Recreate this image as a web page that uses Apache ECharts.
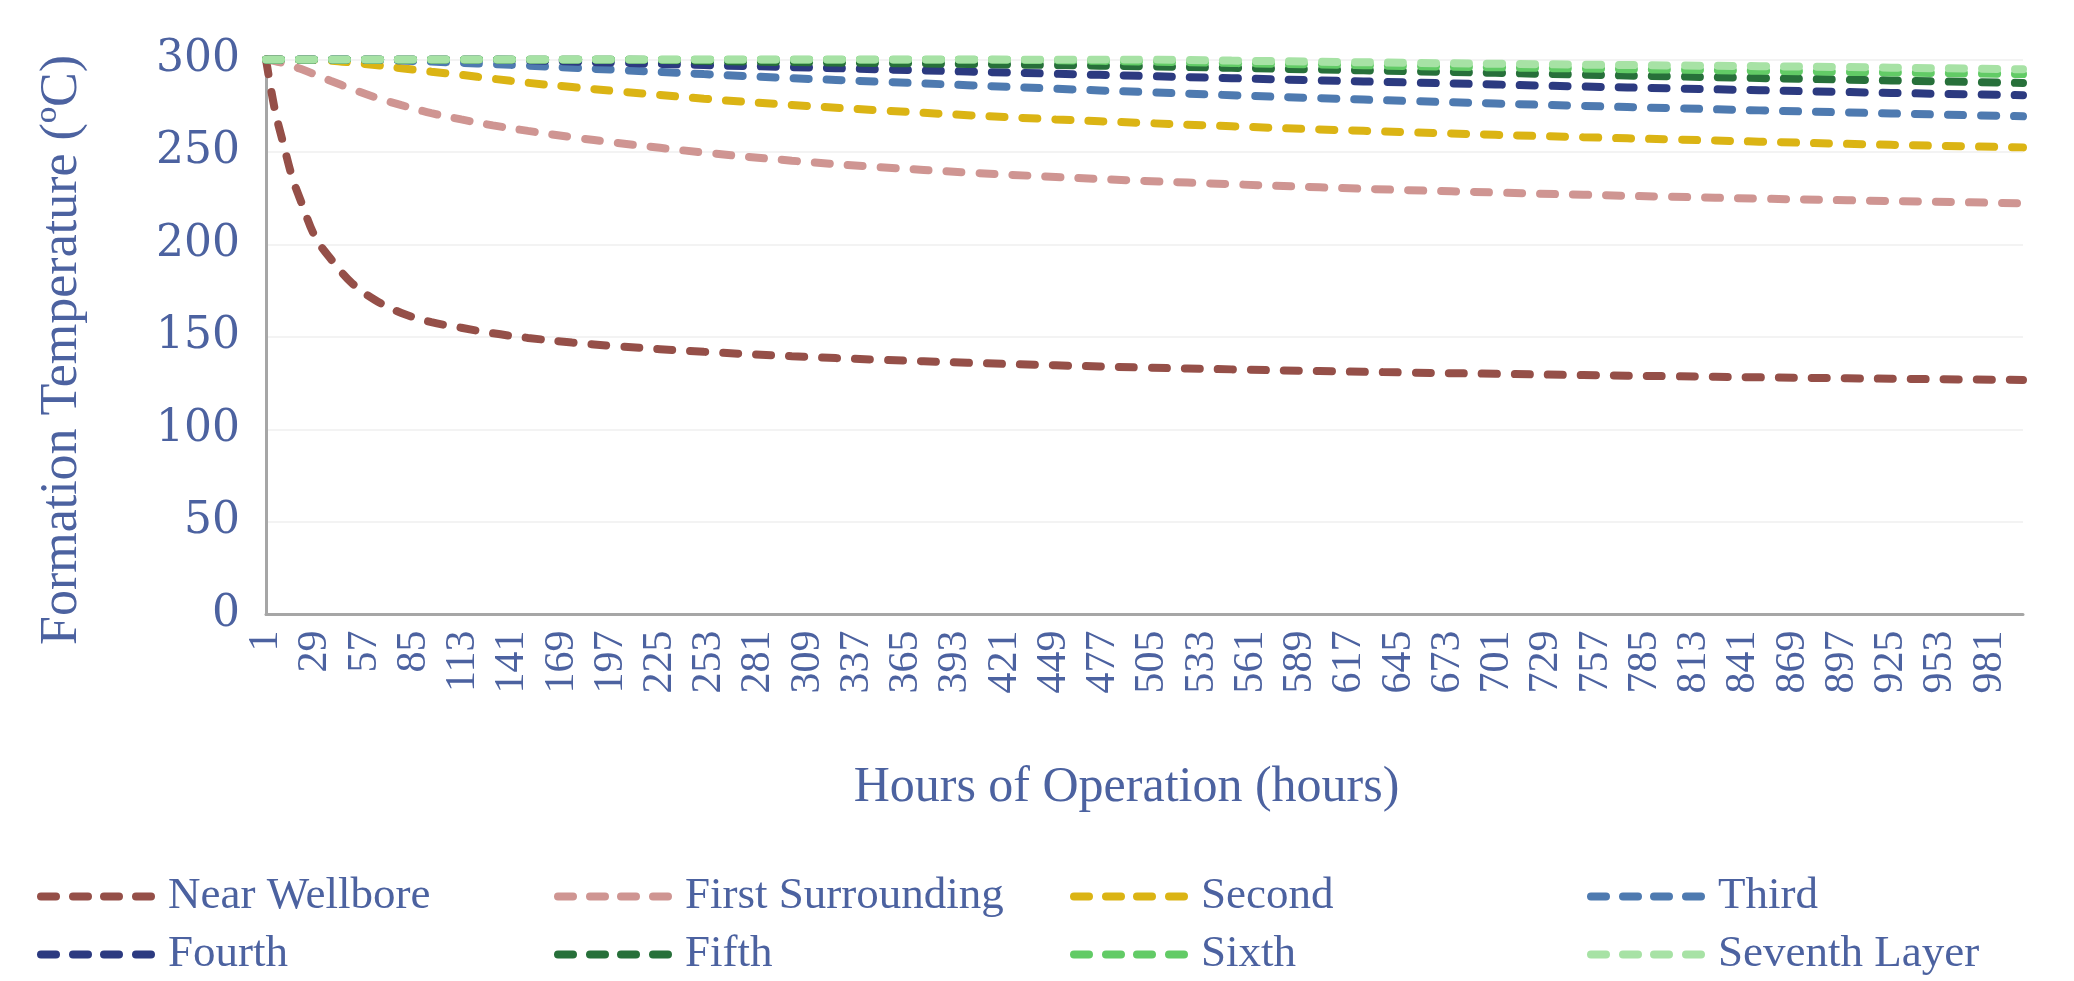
<!DOCTYPE html>
<html>
<head>
<meta charset="utf-8">
<script src="https://cdn.jsdelivr.net/npm/echarts@6/dist/echarts.min.js"></script>
<style>
  html, body { margin: 0; padding: 0; background: #fff; }
  #chart { width: 2074px; height: 981px; }
</style>
</head>
<body>
<div id="chart"></div>
<script>
var hours = [1, 6, 11, 16, 21, 29, 38, 50, 63, 78, 95, 112, 130, 150, 175, 200, 250, 300, 350, 400, 450, 500, 550, 600, 650, 700, 750, 800, 850, 900, 950, 1000];

var nearWellbore = [300, 273, 254, 236, 223, 204, 192, 179, 170, 163, 158, 155, 152, 149.5, 147, 145.0, 142.0, 139.6, 137.7, 136.1, 134.7, 133.5, 132.5, 131.6, 130.8, 130.1, 129.4, 128.8, 128.2, 127.7, 127.2, 126.8];
var firstSurrounding = [300, 299.2, 298, 296.5, 294.8, 291.9, 288.4, 284, 279.6, 275.3, 271, 267.6, 264.4, 261.4, 258.0, 255.0, 249.7, 245.3, 241.8, 238.9, 236.5, 234.4, 232.6, 230.9, 229.4, 228.1, 226.9, 225.8, 224.8, 223.9, 223.1, 222.3];
var second = [300, 300, 300, 300, 299.9, 299.8, 299.4, 298.3, 297, 295.3, 293.4, 291.7, 289.6, 287.4, 285.1, 282.9, 278.8, 275.4, 272.5, 269.9, 267.6, 265.7, 263.9, 262.2, 260.7, 259.3, 258.0, 256.8, 255.6, 254.4, 253.4, 252.5];
var third = [300, 300, 300, 300, 300, 300, 300, 300, 299.8, 299.4, 298.9, 298.2, 297.5, 296.7, 295.5, 294.4, 292.1, 289.9, 288.0, 286.1, 284.2, 282.4, 280.7, 279.1, 277.6, 276.2, 274.9, 273.7, 272.5, 271.4, 270.3, 269.3];
var fourth = [300, 300, 300, 300, 300, 300, 300, 300, 300, 300, 300, 300, 300, 299.6, 298.9, 298.3, 297.0, 295.9, 294.7, 293.5, 292.3, 291.1, 289.9, 288.7, 287.6, 286.5, 285.4, 284.4, 283.4, 282.4, 281.5, 280.7];
var fifth = [300, 300, 300, 300, 300, 300, 300, 300, 300, 300, 300, 300, 300, 300, 300, 300, 299.3, 298.6, 298.1, 297.6, 297.0, 296.3, 295.5, 294.6, 293.7, 292.8, 291.8, 290.9, 290.0, 289.1, 288.2, 287.3];
var sixth = [300, 300, 300, 300, 300, 300, 300, 300, 300, 300, 300, 300, 300, 300, 300, 300, 300, 300, 300, 300, 299.6, 298.9, 298.1, 297.3, 296.5, 295.8, 295.1, 294.5, 293.9, 293.3, 292.7, 292.1];
var seventh = [300, 300, 300, 300, 300, 300, 300, 300, 300, 300, 300, 300, 300, 300, 300, 300, 300, 300, 300, 300, 300, 300, 299.4, 298.8, 298.2, 297.7, 297.2, 296.8, 296.4, 295.9, 295.3, 294.7];

var seriesNames = ['Near Wellbore', 'First Surrounding', 'Second', 'Third', 'Fourth', 'Fifth', 'Sixth', 'Seventh Layer'];
var seriesValues = [nearWellbore, firstSurrounding, second, third, fourth, fifth, sixth, seventh];
var seriesColors = ['#954F48', '#CF9592', '#DBB414', '#4E7AB0', '#2C3A80', '#27703A', '#62CB66', '#A7E2A5'];

// x axis categories: one per hour
var hourCategories = [];
for (var h = 1; h <= 1000; h++) {
  hourCategories.push(String(h));
}

const TEXT_COLOR = '#4C62A0';
const AXIS_COLOR = '#A6A6A6';
const SERIF = 'Liberation Serif';

// legend icon: four rounded dashes in a 118 x 8 box
function pill(x) {
  return 'M' + (x + 4) + ',0 h15 a4,4 0 0 1 0,8 h-15 a4,4 0 0 1 0,-8 z ';
}
var DASH_ICON = 'path://' + pill(0) + pill(32) + pill(63) + pill(95);

var chart = echarts.init(document.getElementById('chart'), null, { renderer: 'canvas' });

var series = seriesNames.map(function (name, i) {
  return {
    name: name,
    type: 'line',
    symbol: 'none',
    smooth: 0.35,
    data: hours.map(function (hr, j) { return [hr - 1, seriesValues[i][j]]; }),
    lineStyle: {
      color: seriesColors[i],
      width: 8,
      type: [15, 18],
      cap: 'round'
    },
    itemStyle: { color: seriesColors[i] }
  };
});

// legend laid out as 4 columns x 2 rows
var legendCols = [37, 554, 1070, 1587];
var legendRows = [874, 932];
var legends = seriesNames.map(function (name, i) {
  return {
    data: [name],
    left: legendCols[i % 4],
    top: legendRows[Math.floor(i / 4)],
    padding: 0,
    icon: DASH_ICON,
    itemWidth: 118,
    itemHeight: 8,
    itemStyle: { borderWidth: 0 },
    textStyle: {
      color: TEXT_COLOR,
      fontFamily: SERIF,
      fontSize: 45,
      padding: [0, 0, 0, 8]
    }
  };
});

var option = {
  animation: false,
  backgroundColor: '#fff',
  legend: legends,
  grid: {
    left: 266,
    right: 51,
    top: 59.5,
    bottom: 366.5,
    containLabel: false
  },
  xAxis: {
    type: 'category',
    data: hourCategories,
    boundaryGap: false,
    name: 'Hours of Operation (hours)',
    nameLocation: 'middle',
    nameGap: 148,
    nameTextStyle: {
      color: TEXT_COLOR,
      fontFamily: SERIF,
      fontSize: 50,
      padding: [0, 36, 0, 0]
    },
    axisLine: { lineStyle: { color: AXIS_COLOR, width: 3 } },
    axisTick: { show: false },
    axisLabel: {
      interval: 27,
      rotate: 90,
      margin: 16,
      color: TEXT_COLOR,
      fontFamily: SERIF,
      fontSize: 42
    },
    splitLine: { show: false }
  },
  yAxis: {
    type: 'value',
    min: 0,
    max: 300,
    interval: 50,
    name: 'Formation Temperature (ºC)',
    nameLocation: 'middle',
    nameGap: 178,
    nameTextStyle: {
      color: TEXT_COLOR,
      fontFamily: SERIF,
      fontSize: 52,
      padding: [0, 26, 0, 0]
    },
    axisLine: { show: true, lineStyle: { color: AXIS_COLOR, width: 3 } },
    axisTick: { show: false },
    axisLabel: {
      margin: 26,
      color: TEXT_COLOR,
      fontFamily: 'DejaVu Serif',
      fontSize: 44
    },
    splitLine: { lineStyle: { color: '#EFEFEF', width: 1.5 } }
  },
  series: series
};

chart.setOption(option);
</script>
</body>
</html>
